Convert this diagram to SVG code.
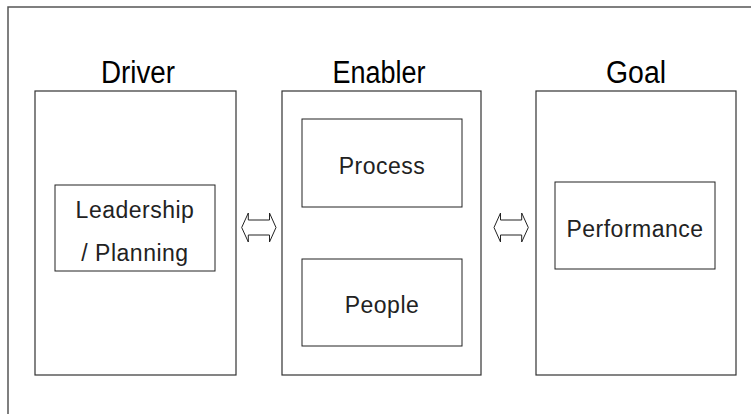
<svg xmlns="http://www.w3.org/2000/svg" width="751" height="414" viewBox="0 0 751 414">
<defs>
<style>
.frame{fill:none;stroke:#555;stroke-width:1.5}
.box{fill:#fff;stroke:#333;stroke-width:1.2}
.inner{fill:#fff;stroke:#222;stroke-width:1}
.head{font-family:"Liberation Sans",Arial,sans-serif;font-size:31px;fill:#000;text-anchor:middle}
.lbl{font-family:"Liberation Sans",Arial,sans-serif;font-size:23px;letter-spacing:0.5px;fill:#222;text-anchor:middle}
.arr{fill:#fff;stroke:#222;stroke-width:1}
</style>
</defs>
<rect width="751" height="414" fill="#fff"/>
<rect class="frame" x="8" y="7" width="800" height="500"/>
<g id="driver">
<text class="head" x="138" y="83" textLength="74" lengthAdjust="spacingAndGlyphs">Driver</text>
<rect class="box" x="35" y="91" width="201" height="284"/>
</g>
<g id="leadership">
<rect class="inner" x="55" y="185" width="160" height="86"/>
<text class="lbl" x="135" y="218">Leadership</text>
<text class="lbl" x="135" y="261">/ Planning</text>
</g>
<g id="enabler">
<text class="head" x="379" y="83" textLength="93" lengthAdjust="spacingAndGlyphs">Enabler</text>
<rect class="box" x="282" y="91" width="199" height="284"/>
</g>
<g id="process">
<rect class="inner" x="302" y="119" width="160" height="88"/>
<text class="lbl" x="382" y="174">Process</text>
</g>
<g id="people">
<rect class="inner" x="302" y="259" width="160" height="87"/>
<text class="lbl" x="382" y="313">People</text>
</g>
<g id="goal">
<text class="head" x="636" y="83" textLength="60" lengthAdjust="spacingAndGlyphs">Goal</text>
<rect class="box" x="536" y="91" width="200" height="284"/>
</g>
<g id="performance">
<rect class="inner" x="555" y="182" width="160" height="87"/>
<text class="lbl" x="635" y="237">Performance</text>
</g>
<g id="connectors">
<polygon class="arr" points="241.7,227.5 248.3,213 248.3,220 269.5,220 269.5,213 276,227.5 269.5,242 269.5,235 248.3,235 248.3,242"/>
<polygon class="arr" points="494,227.5 500.5,213 500.5,220 521.7,220 521.7,213 528.3,227.5 521.7,242 521.7,235 500.5,235 500.5,242"/>
</g>
</svg>
